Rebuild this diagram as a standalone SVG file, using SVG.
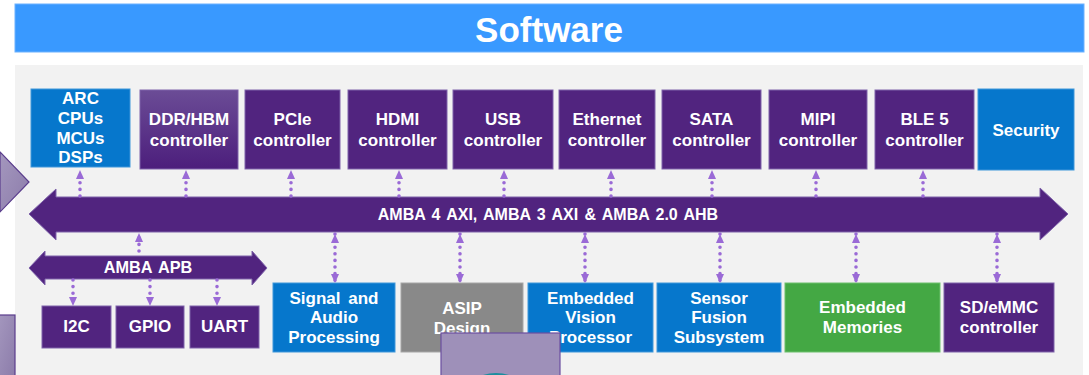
<svg xmlns="http://www.w3.org/2000/svg" width="1089" height="375" viewBox="0 0 1089 375">
<defs>
<style>
.t{font-family:"Liberation Sans",Arial,sans-serif;font-weight:bold;fill:#fff;text-anchor:middle;font-size:17px}
.pu{fill:#51247F;stroke:#7E62AA;stroke-width:1}
.bl{fill:#0677CC;stroke:#3F97DA;stroke-width:1}
.gr{fill:#898989;stroke:#A6A6A6;stroke-width:1}
.gn{fill:#44A844;stroke:#6CC06C;stroke-width:1}
.c{fill:none;stroke:#9A6AD6;stroke-width:3.6;stroke-linecap:round;stroke-dasharray:0 6.6}
.c1{marker-end:url(#ah)}
.c2{marker-start:url(#ah);marker-end:url(#ah)}
</style>
<marker id="ah" markerUnits="userSpaceOnUse" markerWidth="9" markerHeight="9" viewBox="0 0 9 9" refX="9" refY="4.5" orient="auto-start-reverse">
<path d="M0,0.5 L9,4.5 L0,8.5 z" fill="#9A6AD6"/>
</marker>
<linearGradient id="ddr" x1="0" y1="0" x2="0" y2="1">
<stop offset="0" stop-color="#6B4C96"/>
<stop offset="1" stop-color="#4C1E7C"/>
</linearGradient>
<linearGradient id="lav" x1="0" y1="0" x2="1" y2="1">
<stop offset="0" stop-color="#A497BE"/>
<stop offset="1" stop-color="#8C7CAA"/>
</linearGradient>
</defs>

<rect x="15" y="4" width="1069" height="48" fill="#3999FF" stroke="#6CB2FF" stroke-width="1"/>
<text class="t" x="549" y="42" style="font-size:35px">Software</text>

<rect x="15" y="65" width="1068" height="310" fill="#F2F2F2"/>

<polygon points="0,152 29,182 0,212" fill="url(#lav)" stroke="#5A3D8C" stroke-width="1.2"/>
<rect x="-2" y="315" width="17" height="62" fill="url(#lav)" stroke="#5A3D8C" stroke-width="1.2"/>

<g id="axi-bus">
<polygon points="29,214 56,189 56,197 1040,197 1040,188 1068,214 1040,240 1040,232 56,232 56,240" fill="#51247F" stroke="#7E62AA" stroke-width="1"/>
<text class="t" x="548" y="219.5" style="font-size:16px;word-spacing:1.9px">AMBA 4 AXI, AMBA 3 AXI &amp; AMBA 2.0  AHB</text>
</g>
<g id="apb-bus">
<polygon points="29,268 45,251 45,256 252,256 252,251 267,268 252,285 252,279 45,279 45,285" fill="#51247F" stroke="#7E62AA" stroke-width="1"/>
<text class="t" x="148" y="273.3" style="font-size:16.3px;word-spacing:2px">AMBA APB</text>
</g>

<g id="arc"><rect class="bl" x="31" y="89" width="99" height="78"/>
<text class="t" x="80.5" y="104">ARC</text><text class="t" x="80.5" y="124">CPUs</text><text class="t" x="80.5" y="144">MCUs</text><text class="t" x="80.5" y="163">DSPs</text></g>
<g id="ddr"><rect x="140" y="90" width="98" height="79" fill="url(#ddr)" stroke="#7E62AA"/>
<text class="t" x="189" y="125">DDR/HBM</text><text class="t" x="189" y="146">controller</text></g>
<g id="pcie"><rect class="pu" x="245" y="90" width="95" height="79"/>
<text class="t" x="292.5" y="125">PCIe</text><text class="t" x="292.5" y="146">controller</text></g>
<g id="hdmi"><rect class="pu" x="348" y="90" width="99" height="79"/>
<text class="t" x="397.5" y="125">HDMI</text><text class="t" x="397.5" y="146">controller</text></g>
<g id="usb"><rect class="pu" x="453" y="90" width="100" height="79"/>
<text class="t" x="503" y="125">USB</text><text class="t" x="503" y="146">controller</text></g>
<g id="ethernet"><rect class="pu" x="559" y="90" width="96" height="79"/>
<text class="t" x="607" y="125">Ethernet</text><text class="t" x="607" y="146">controller</text></g>
<g id="sata"><rect class="pu" x="662" y="90" width="99" height="79"/>
<text class="t" x="711.5" y="125">SATA</text><text class="t" x="711.5" y="146">controller</text></g>
<g id="mipi"><rect class="pu" x="769" y="90" width="98" height="79"/>
<text class="t" x="818" y="125">MIPI</text><text class="t" x="818" y="146">controller</text></g>
<g id="ble5"><rect class="pu" x="875" y="90" width="99" height="79"/>
<text class="t" x="924.5" y="125">BLE 5</text><text class="t" x="924.5" y="146">controller</text></g>
<g id="security"><rect class="bl" x="978" y="89" width="96" height="81"/>
<text class="t" x="1026" y="136">Security</text></g>

<g id="i2c"><rect class="pu" x="42" y="306" width="69" height="42"/><text class="t" x="76.5" y="332">I2C</text></g>
<g id="gpio"><rect class="pu" x="116" y="306" width="68" height="42"/><text class="t" x="150" y="332">GPIO</text></g>
<g id="uart"><rect class="pu" x="190" y="306" width="69" height="42"/><text class="t" x="224.5" y="332">UART</text></g>

<g id="signal-audio"><rect class="bl" x="273" y="283" width="122" height="69"/>
<text class="t" x="334" y="304" style="word-spacing:3px">Signal and</text><text class="t" x="334" y="323">Audio</text><text class="t" x="334" y="343">Processing</text></g>
<g id="asip"><rect class="gr" x="401" y="283" width="122" height="69"/>
<text class="t" x="462" y="314">ASIP</text><text class="t" x="462" y="334">Design</text></g>
<g id="evp"><rect class="bl" x="528" y="283" width="125" height="69"/>
<text class="t" x="590.5" y="304">Embedded</text><text class="t" x="590.5" y="323">Vision</text><text class="t" x="590.5" y="343">Processor</text></g>
<g id="sensor-fusion"><rect class="bl" x="657" y="283" width="124" height="69"/>
<text class="t" x="719" y="304">Sensor</text><text class="t" x="719" y="323">Fusion</text><text class="t" x="719" y="343">Subsystem</text></g>
<g id="emb-mem"><rect class="gn" x="785" y="283" width="155" height="69"/>
<text class="t" x="862.5" y="313">Embedded</text><text class="t" x="862.5" y="333">Memories</text></g>
<g id="sdemmc"><rect class="pu" x="944" y="283" width="110" height="69"/>
<text class="t" x="999" y="313">SD/eMMC</text><text class="t" x="999" y="333">controller</text></g>

<g id="connectors">
<path class="c c1" d="M80,196 V170"/>
<path class="c c1" d="M186,196 V170"/>
<path class="c c1" d="M291,196 V170"/>
<path class="c c1" d="M399,196 V170"/>
<path class="c c1" d="M504,196 V170"/>
<path class="c c1" d="M611,196 V170"/>
<path class="c c1" d="M712,196 V170"/>
<path class="c c1" d="M816,196 V170"/>
<path class="c c1" d="M923,196 V170"/>
<path class="c c1" d="M139,251 V233"/>
<path class="c c1" d="M73,280 V306"/>
<path class="c c1" d="M150,280 V306"/>
<path class="c c1" d="M217,280 V306"/>
<path class="c c2" d="M335,234 V283"/>
<path class="c c2" d="M460,234 V283"/>
<path class="c c2" d="M585,234 V283"/>
<path class="c c2" d="M720,234 V283"/>
<path class="c c2" d="M856,234 V283"/>
<path class="c c2" d="M997,234 V283"/>
</g>

<rect x="441" y="333" width="119" height="45" fill="#9E90B9" stroke="#6B4FA0" stroke-width="1.2"/>
<ellipse cx="496" cy="399" rx="34" ry="26" fill="#1B8E9E"/>
</svg>
